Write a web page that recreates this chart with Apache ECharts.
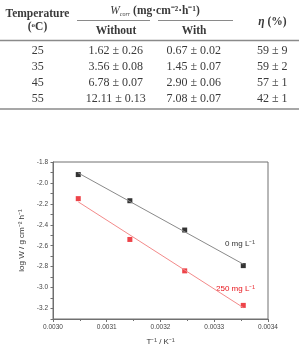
<!DOCTYPE html>
<html>
<head>
<meta charset="utf-8">
<script src="https://cdn.jsdelivr.net/npm/echarts@6/dist/echarts.min.js"></script>
<style>
  html, body { margin: 0; padding: 0; background: #fff; }
  #main { width: 299px; height: 347px; }
</style>
</head>
<body>
<div id="main"></div>
<script>
// table data
var temps = [25, 35, 45, 55];
var withoutMean = [1.62, 3.56, 6.78, 12.11];
var withoutErr = [0.26, 0.08, 0.07, 0.13];
var withMean = [0.67, 1.45, 2.90, 7.08];
var withErr = [0.02, 0.07, 0.06, 0.07];
var eff = [59, 59, 57, 42];
var effErr = [9, 2, 1, 1];

// Arrhenius plot data
var invT = [0.003047, 0.003143, 0.003245, 0.003354];
var logW0 = [-1.92, -2.17, -2.45, -2.79];
var logW250 = [-2.15, -2.54, -2.84, -3.17];
var fitX = [0.003047, 0.003354];
var fit0 = [-1.905, -2.776];
var fit250 = [-2.181, -3.191];

var serif = 'Liberation Serif';
var sans = 'Liberation Sans';
var txtColor = '#3a3a3a';

function pairs(xs, ys) {
  return xs.map(function (x, i) { return [x, ys[i]]; });
}

// table drawn as graphic elements
var graphics = [];
function txt(x, y, text, opts) {
  var st = Object.assign({
    text: text, x: x, y: y, align: 'center', verticalAlign: 'middle',
    fontFamily: serif, fontSize: 12, fill: txtColor
  }, opts || {});
  graphics.push({ type: 'text', style: st, silent: true });
}
function hline(x1, x2, y, w) {
  graphics.push({ type: 'line', shape: { x1: x1, y1: y, x2: x2, y2: y },
    style: { stroke: '#8a8a8a', lineWidth: w || 1 }, silent: true });
}

txt(37.5, 14.5, 'Temperature', { fontWeight: 'bold', fontSize: 11.5 });
txt(37.5, 27.5, '({s|o}C)', { fontWeight: 'bold', fontSize: 11.5,
  rich: { s: { fontSize: 7, fontWeight: 'bold', fontFamily: serif, fill: txtColor, verticalAlign: 'top' } } });
txt(155, 11, '{w|W}{c|corr} (mg·cm⁻²·h⁻¹)', { fontWeight: 'bold', fontSize: 11.5,
  rich: {
    w: { fontStyle: 'italic', fontFamily: serif, fontSize: 11.5, fill: txtColor },
    c: { fontStyle: 'italic', fontFamily: serif, fontSize: 6, fill: txtColor, padding: [6, 0, 0, 0] }
  } });
hline(77, 150, 20.5, 1);
hline(158, 233, 20.5, 1);
txt(116, 31.5, 'Without', { fontWeight: 'bold', fontSize: 11.5 });
txt(194, 31.5, 'With', { fontWeight: 'bold', fontSize: 11.5 });
txt(272.5, 22.5, '{e|η} (%)', { fontWeight: 'bold', fontSize: 11.5,
  rich: { e: { fontStyle: 'italic', fontWeight: 'bold', fontFamily: serif, fontSize: 11.5, fill: txtColor } } });
hline(0, 299, 40.5, 1.5);
temps.forEach(function (t, i) {
  var y = 51 + i * 16;
  txt(37.7, y, String(t));
  txt(115.8, y, withoutMean[i].toFixed(2) + ' ± ' + withoutErr[i].toFixed(2));
  txt(193.7, y, withMean[i].toFixed(2) + ' ± ' + withErr[i].toFixed(2));
  txt(272.3, y, eff[i] + ' ± ' + effErr[i]);
});
hline(0, 299, 109, 1.5);

// series annotations
txt(255, 244, '0 mg L⁻¹', { align: 'right', fontFamily: sans, fontSize: 8, fill: '#333' });
txt(255, 289, '250 mg L⁻¹', { align: 'right', fontFamily: sans, fontSize: 8, fill: '#e8141b' });

var axisColor = '#707070';
var myChart = echarts.init(document.getElementById('main'));
myChart.setOption({
  animation: false,
  backgroundColor: '#fff',
  graphic: graphics,
  grid: {
    left: 53, right: 31, top: 162, bottom: 28,
    show: true, borderColor: axisColor, borderWidth: 1
  },
  xAxis: {
    type: 'value', min: 0.0030, max: 0.0034, interval: 0.0001,
    name: 'T⁻¹ / K⁻¹', nameLocation: 'middle', nameGap: 19,
    nameTextStyle: { fontFamily: sans, fontSize: 8, color: '#333' },
    axisLine: { onZero: false, lineStyle: { color: axisColor } },
    axisTick: { length: 3, lineStyle: { color: axisColor } },
    minorTick: { show: true, splitNumber: 2, length: 2, lineStyle: { color: axisColor } },
    splitLine: { show: false },
    axisLabel: { fontFamily: sans, fontSize: 6.5, color: '#444', margin: 5,
      formatter: function (v) { return v.toFixed(4); } }
  },
  yAxis: {
    type: 'value', min: -3.3, max: -1.8, interval: 0.1,
    name: 'log W / g cm⁻² h⁻¹', nameLocation: 'middle', nameGap: 22,
    nameTextStyle: { fontFamily: sans, fontSize: 8, color: '#333' },
    axisLine: { show: true, lineStyle: { color: axisColor } },
    axisTick: { length: 2.5, lineStyle: { color: axisColor } },
    splitLine: { show: false },
    axisLabel: { fontFamily: sans, fontSize: 6.5, color: '#444', margin: 5,
      formatter: function (v) {
        var k = Math.round(v * 10);
        return (k % 2 === 0) ? v.toFixed(1) : '';
      } }
  },
  series: [
    {
      type: 'line', data: pairs(fitX, fit0), symbol: 'none',
      lineStyle: { color: '#8a8a8a', width: 1 }, silent: true
    },
    {
      type: 'line', data: pairs(fitX, fit250), symbol: 'none',
      lineStyle: { color: '#f38a8a', width: 1 }, silent: true
    },
    {
      type: 'scatter', data: pairs(invT, logW0), symbol: 'rect', symbolSize: 5,
      itemStyle: { color: '#000' }
    },
    {
      type: 'scatter', data: pairs(invT, logW250), symbol: 'rect', symbolSize: 5,
      itemStyle: { color: '#e8141b' }
    }
  ]
});
</script>
</body>
</html>
